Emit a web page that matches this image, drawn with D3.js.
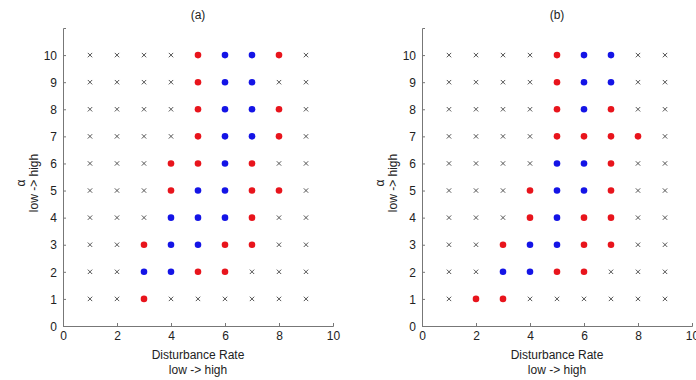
<!DOCTYPE html>
<html>
<head>
<meta charset="utf-8">
<script src="https://cdnjs.cloudflare.com/ajax/libs/d3/7.8.5/d3.min.js"></script>
<style>
  body { margin: 0; background: #fff; }
  text { font-family: "Liberation Sans", Arial, sans-serif; }
</style>
</head>
<body>
<div id="chart"></div>
<script>
(function () {

  // x = disturbance rate, y = alpha
  var disturbance = [1, 2, 3, 4, 5, 6, 7, 8, 9]
  var alpha = [1, 2, 3, 4, 5, 6, 7, 8, 9, 10]
  var xTicks = [0, 2, 4, 6, 8, 10]
  var yTicks = [0, 1, 2, 3, 4, 5, 6, 7, 8, 9, 10]
  var panelTitles = ['(a)', '(b)']

  // one string per alpha (1 at top of list -> 10 at bottom),
  // one char per disturbance rate: x = cross, R = red dot, B = blue dot
  var panelA = [
    'xxRxxxxxx',
    'xxBBRRxxx',
    'xxRBBRRxx',
    'xxxBBBRxx',
    'xxxRBBRRx',
    'xxxRRBRxx',
    'xxxxRBBRx',
    'xxxxRBBRx',
    'xxxxRBBxx',
    'xxxxRBBRx'
  ]
  var panelB = [
    'xRRxxxxxx',
    'xxBBRRxxx',
    'xxRBBRRxx',
    'xxxRBRRxx',
    'xxxRBBRxx',
    'xxxxBBRxx',
    'xxxxRRRRx',
    'xxxxRBRxx',
    'xxxxRBBxx',
    'xxxxRBBxx'
  ]

  var colors = { R: '#e8141c', B: '#1414e6' }

  var svg = d3.select('#chart').append('svg')
    .attr('width', 696)
    .attr('height', 380)

  var panels = [
    { title: panelTitles[0], grid: panelA, left: 63 },
    { title: panelTitles[1], grid: panelB, left: 422 }
  ]

  var width = 270,
      top = 28,
      height = 298

  panels.forEach(function (p) {
    var g = svg.append('g')
      .attr('transform', 'translate(' + p.left + ',' + top + ')')

    var x = d3.scaleLinear().domain([0, 10]).range([0, width])
    var y = d3.scaleLinear().domain([0, 11]).range([height, 0])

    var points = []
    p.grid.forEach(function (row, i) {
      disturbance.forEach(function (d, j) {
        points.push({ x: d, y: alpha[i], k: row[j] })
      })
    })

    // axes, MATLAB style: ticks inside, only left and bottom spines
    var xAxis = d3.axisBottom(x).tickValues(xTicks).tickSize(-3).tickPadding(6)
    var yAxis = d3.axisLeft(y).tickValues(yTicks).tickSize(-3).tickPadding(6)

    var gx = g.append('g')
      .attr('transform', 'translate(0,' + height + ')')
      .call(xAxis)
    var gy = g.append('g').call(yAxis)

    ;[gx, gy].forEach(function (a) {
      a.select('.domain').attr('stroke', '#777')
      a.selectAll('.tick line').attr('stroke', '#777')
      a.selectAll('.tick text')
        .attr('fill', '#222')
        .style('font-size', '12px')
    })
    gy.selectAll('.tick text').attr('dy', '0.35em')
    gx.selectAll('.tick text').attr('dy', '0.9em').attr('y', 3)

    // crosses
    var s = 2.2
    g.selectAll('.cross')
      .data(points.filter(function (d) { return d.k === 'x' }))
      .enter().append('path')
      .attr('class', 'cross')
      .attr('d', function (d) {
        var cx = x(d.x), cy = y(d.y)
        return 'M' + (cx - s) + ',' + (cy - s) + 'L' + (cx + s) + ',' + (cy + s) +
               'M' + (cx - s) + ',' + (cy + s) + 'L' + (cx + s) + ',' + (cy - s)
      })
      .attr('stroke', '#555')
      .attr('stroke-width', 1)

    // dots
    g.selectAll('.dot')
      .data(points.filter(function (d) { return d.k !== 'x' }))
      .enter().append('circle')
      .attr('class', 'dot')
      .attr('cx', function (d) { return x(d.x) })
      .attr('cy', function (d) { return y(d.y) })
      .attr('r', 3.3)
      .attr('fill', function (d) { return colors[d.k] })

    // title
    g.append('text')
      .attr('x', width / 2)
      .attr('y', 15 - top)
      .attr('dy', '0.35em')
      .attr('text-anchor', 'middle')
      .style('font-size', '12px')
      .attr('fill', '#222')
      .text(p.title)

    // x label
    g.append('text')
      .attr('x', width / 2)
      .attr('y', height + 29)
      .attr('dy', '0.35em')
      .attr('text-anchor', 'middle')
      .style('font-size', '12px')
      .attr('fill', '#222')
      .text('Disturbance Rate')
    g.append('text')
      .attr('x', width / 2)
      .attr('y', height + 44)
      .attr('dy', '0.35em')
      .attr('text-anchor', 'middle')
      .style('font-size', '12px')
      .attr('fill', '#222')
      .text('low -> high')

    // y label
    var yl = g.append('text')
      .attr('transform', 'translate(-36,' + (height / 2 + 6) + ') rotate(-90)')
      .attr('text-anchor', 'middle')
      .style('font-size', '12px')
      .attr('fill', '#222')
    yl.append('tspan').attr('x', 0).attr('dy', '-0.2em').text('α')
    yl.append('tspan').attr('x', 0).attr('dy', '1.15em').text('low -> high')
  })

})()
</script>
</body>
</html>
